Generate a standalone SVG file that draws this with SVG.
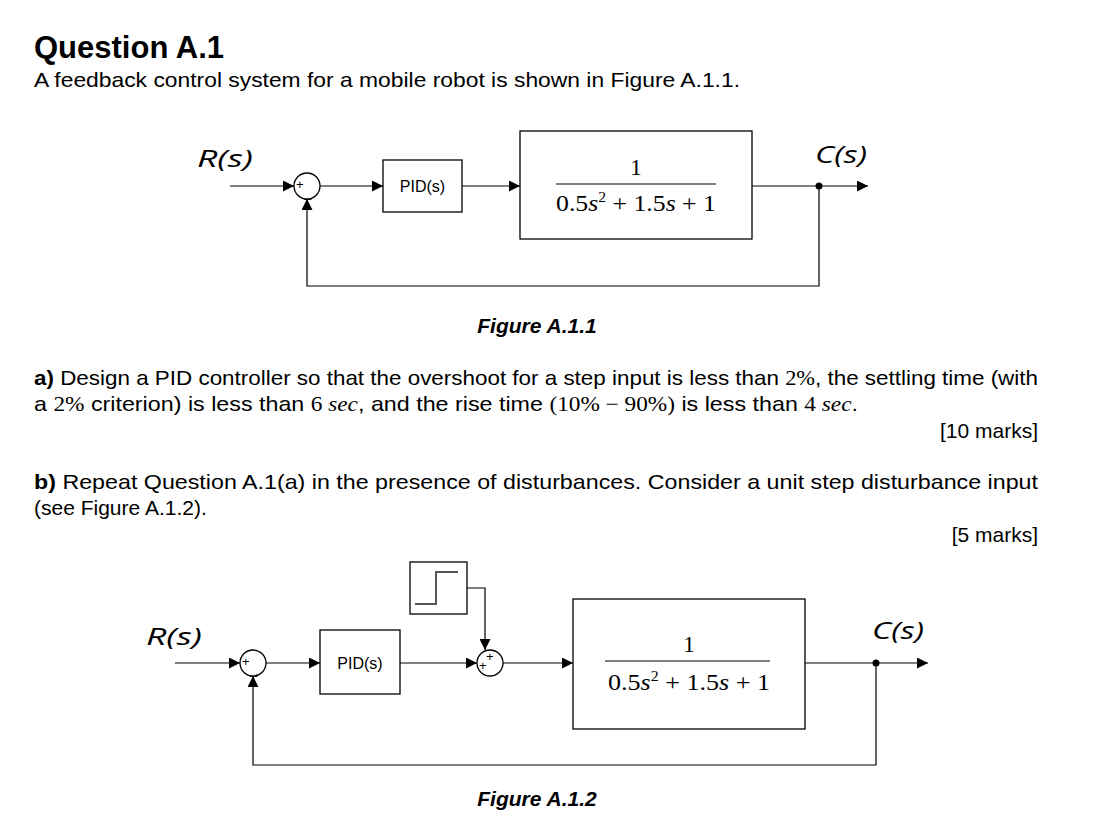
<svg xmlns="http://www.w3.org/2000/svg" width="1108" height="838" viewBox="0 0 1108 838">
<defs>
<marker id="ar" viewBox="0 0 10 10" refX="10" refY="5" markerWidth="11" markerHeight="11" markerUnits="userSpaceOnUse" orient="auto"><path d="M0,0L10,5L0,10z" fill="#000"/></marker>
<style>
.t{font-family:"Liberation Sans",Arial,sans-serif;font-size:21px;fill:#000}
.m{font-family:"Liberation Serif",serif;font-size:21px}
.b{fill:#fff;stroke:#000;stroke-width:1.3}
.l{fill:none;stroke:#000;stroke-width:1.2}
.lab{font-family:"Open Sans","DejaVu Sans",sans-serif;font-style:italic;font-size:24px}
.fr{font-family:"Liberation Serif",serif;font-size:23px;text-anchor:middle}
.pid{font-family:"Liberation Sans",sans-serif;font-size:16px;text-anchor:middle}
.sg{font-family:"Liberation Sans",sans-serif;font-size:13px}
</style>
</defs>
<rect width="1108" height="838" fill="#fff"/>
<text x="34" y="58" class="t" style="font-size:31px;font-weight:bold">Question A.1</text>
<text x="34" y="87" class="t" textLength="706" lengthAdjust="spacingAndGlyphs">A feedback control system for a mobile robot is shown in Figure A.1.1.</text>

<!-- Figure 1 -->
<g id="f1-connectors">
<path class="l" d="M230,186H294" marker-end="url(#ar)"/>
<path class="l" d="M320,186H383" marker-end="url(#ar)"/>
<path class="l" d="M462,186H520" marker-end="url(#ar)"/>
<path class="l" d="M752,186H868" marker-end="url(#ar)"/>
<path class="l" d="M819,186V286H307V199" marker-end="url(#ar)"/>
<circle cx="819" cy="186" r="3.5"/>
</g>
<g id="f1-sum"><circle class="b" cx="307" cy="186" r="13"/><text x="296" y="189" class="sg">+</text><text x="304" y="197" class="sg">_</text></g>
<g id="f1-pid"><rect class="b" x="383" y="160" width="79" height="52"/><text x="422.5" y="192" class="pid">PID(s)</text></g>
<g id="f1-plant"><rect class="b" x="520" y="131" width="232" height="108"/>
<text x="636" y="175" class="fr">1</text><line x1="556" y1="184" x2="716" y2="184" stroke="#000" stroke-width="1.2"/>
<text x="636" y="211" class="fr" textLength="160" lengthAdjust="spacingAndGlyphs">0.5<tspan font-style="italic">s</tspan><tspan dy="-9" font-size="14">2</tspan><tspan dy="9"> + 1.5</tspan><tspan font-style="italic">s</tspan> + 1</text></g>
<text x="197" y="167" class="lab" textLength="56" lengthAdjust="spacingAndGlyphs">R(s)</text>
<text x="815" y="163" class="lab" textLength="52" lengthAdjust="spacingAndGlyphs">C(s)</text>

<text x="537" y="333" class="t" style="font-weight:bold;font-style:italic;text-anchor:middle">Figure A.1.1</text>

<text x="34" y="385" class="t" textLength="1004" lengthAdjust="spacingAndGlyphs"><tspan font-weight="bold">a)</tspan> Design a PID controller so that the overshoot for a step input is less than <tspan class="m">2%</tspan>, the settling time (with</text>
<text x="34" y="411" class="t" textLength="824" lengthAdjust="spacingAndGlyphs">a <tspan class="m">2%</tspan> criterion) is less than <tspan class="m">6 <tspan font-style="italic">sec</tspan></tspan>, and the rise time <tspan class="m">(10% − 90%)</tspan> is less than <tspan class="m">4 <tspan font-style="italic">sec</tspan></tspan>.</text>
<text x="1038" y="438" class="t" text-anchor="end">[10 marks]</text>

<text x="34" y="489" class="t" textLength="1004" lengthAdjust="spacingAndGlyphs"><tspan font-weight="bold">b)</tspan> Repeat Question A.1(a) in the presence of disturbances. Consider a unit step disturbance input</text>
<text x="34" y="515" class="t">(see Figure A.1.2).</text>
<text x="1038" y="542" class="t" text-anchor="end">[5 marks]</text>

<!-- Figure 2 -->
<g id="f2-connectors">
<path class="l" d="M175,663H240" marker-end="url(#ar)"/>
<path class="l" d="M266,663H320" marker-end="url(#ar)"/>
<path class="l" d="M400,663H477" marker-end="url(#ar)"/>
<path class="l" d="M503,663H573" marker-end="url(#ar)"/>
<path class="l" d="M467,588H485V650" marker-end="url(#ar)"/>
<path class="l" d="M805,663H928" marker-end="url(#ar)"/>
<path class="l" d="M876,663V765H253V676" marker-end="url(#ar)"/>
<circle cx="876" cy="663" r="3.5"/>
</g>
<g id="f2-sum1"><circle class="b" cx="253" cy="663" r="13"/><text x="242" y="666" class="sg">+</text><text x="250" y="674" class="sg">_</text></g>
<g id="f2-pid"><rect class="b" x="320" y="630" width="80" height="64"/><text x="360" y="669" class="pid">PID(s)</text></g>
<g id="f2-sum2"><circle class="b" cx="490" cy="663" r="13"/><text x="479" y="670" class="sg">+</text><text x="486" y="661" class="sg">+</text></g>
<g id="f2-step"><rect class="b" x="410" y="562" width="57" height="52"/><path d="M415,604H436V572H458" fill="none" stroke="#555" stroke-width="2"/></g>
<g id="f2-plant"><rect class="b" x="573" y="599" width="232" height="130"/>
<text x="689" y="652" class="fr">1</text><line x1="605" y1="661" x2="770" y2="661" stroke="#000" stroke-width="1.2"/>
<text x="689" y="690" class="fr" textLength="162" lengthAdjust="spacingAndGlyphs">0.5<tspan font-style="italic">s</tspan><tspan dy="-9" font-size="14">2</tspan><tspan dy="9"> + 1.5</tspan><tspan font-style="italic">s</tspan> + 1</text></g>
<text x="146" y="645" class="lab" textLength="56" lengthAdjust="spacingAndGlyphs">R(s)</text>
<text x="872" y="639" class="lab" textLength="52" lengthAdjust="spacingAndGlyphs">C(s)</text>

<text x="537" y="806" class="t" style="font-weight:bold;font-style:italic;text-anchor:middle">Figure A.1.2</text>
</svg>
